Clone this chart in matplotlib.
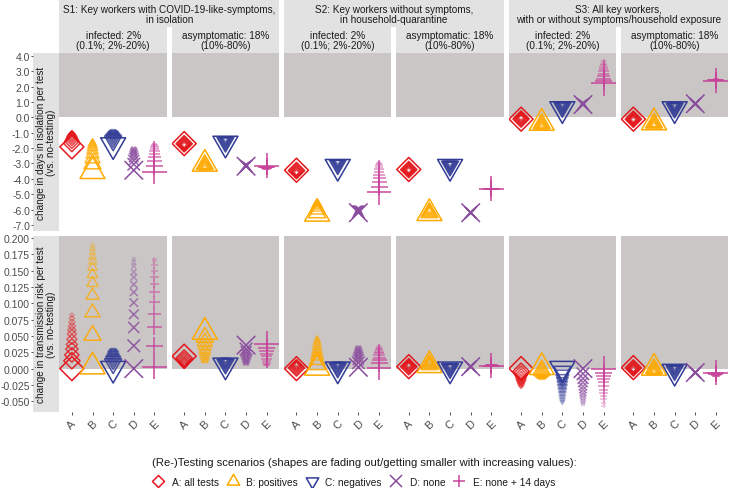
import matplotlib
matplotlib.use("Agg")
import matplotlib.pyplot as plt
import numpy as np
from matplotlib.path import Path
from matplotlib.markers import MarkerStyle
from matplotlib.lines import Line2D

plt.rcParams['font.family'] = ['Liberation Sans', 'DejaVu Sans']
plt.rcParams['axes.unicode_minus'] = False

scenarios = ['A', 'B', 'C', 'D', 'E']
legend_labels = ['A: all tests', 'B: positives', 'C: negatives', 'D: none', 'E: none + 14 days']
colors = ['#e3171c', '#ffaa00', '#323c96', '#8a4c9e', '#c8449b']

group_titles = ['S1: Key workers with COVID-19-like-symptoms,\nin isolation',
                'S2: Key workers without symptoms,\nin household-quarantine',
                'S3: All key workers,\nwith or without symptoms/household exposure']
sub_titles = ['infected: 2%\n(0.1%; 2%-20%)', 'asymptomatic: 18%\n(10%-80%)']
row_titles = ['change in days in isolation per test\n(vs. no-testing)',
              'change in transmission risk per test\n(vs. no-testing)']

# change in days in isolation; per scenario A..E, largest marker first
iso_s1_inf = [
    [-1.92, -1.70, -1.55, -1.43, -1.34, -1.27, -1.21, -1.16, -1.12, -1.08, -1.05, -1.02],
    [-3.51, -3.03, -2.68, -2.38, -2.14, -1.95, -1.83, -1.74, -1.69, -1.65, -1.63, -1.61],
    [-1.80, -1.53, -1.40, -1.30, -1.22, -1.15, -1.10, -1.05, -1.00, -0.96, -0.92, -0.88],
    [-3.44, -3.05, -2.80, -2.61, -2.46, -2.35, -2.26, -2.19, -2.13, -2.08, -2.04, -2.00],
    [-3.54, -3.18, -2.85, -2.59, -2.37, -2.18, -2.03, -1.92, -1.84, -1.78, -1.74, -1.71],
]
iso_s1_asym = [
    [-1.71, -1.72, -1.73, -1.74, -1.75, -1.76, -1.77, -1.78, -1.78, -1.79, -1.79, -1.80],
    [-3.03, -3.07, -3.10, -3.14, -3.17, -3.19, -3.21, -3.23, -3.25, -3.27, -3.29, -3.31],
    [-1.70, -1.62, -1.58, -1.55, -1.52, -1.50, -1.48, -1.46, -1.45, -1.44, -1.43, -1.42],
    [-3.18, -3.17, -3.16, -3.15, -3.14, -3.13, -3.12, -3.11, -3.10, -3.10, -3.09, -3.09],
    [-3.15, -3.20, -3.23, -3.26, -3.28, -3.30, -3.32, -3.33, -3.34, -3.35, -3.36, -3.37],
]
iso_s2_inf = [
    [-3.44, -3.46, -3.48, -3.50, -3.52, -3.54, -3.55, -3.56, -3.57, -3.58, -3.59, -3.60],
    [-6.28, -6.21, -6.00, -5.85, -5.75, -5.70, -5.66, -5.63, -5.61, -5.60, -5.59, -5.58],
    [-3.21, -3.08, -3.04, -3.00, -2.98, -2.96, -2.94, -2.93, -2.92, -2.91, -2.90, -2.89],
    [-6.20, -6.15, -6.10, -6.06, -6.03, -6.00, -5.98, -5.96, -5.95, -5.94, -5.93, -5.92],
    [-4.87, -4.52, -4.22, -3.95, -3.73, -3.53, -3.36, -3.22, -3.10, -3.01, -2.95, -2.91],
]
iso_s2_asym = [
    [-3.39, -3.40, -3.40, -3.41, -3.41, -3.42, -3.42, -3.43, -3.43, -3.44, -3.44, -3.45],
    [-6.24, -6.20, -6.17, -6.14, -6.12, -6.10, -6.08, -6.07, -6.06, -6.05, -6.04, -6.03],
    [-3.21, -3.17, -3.14, -3.11, -3.09, -3.07, -3.06, -3.05, -3.04, -3.03, -3.02, -3.01],
    [-6.20, -6.20, -6.20, -6.20, -6.20, -6.20, -6.20, -6.20, -6.20, -6.20, -6.20, -6.20],
    [-4.65, -4.65, -4.65, -4.65, -4.65, -4.65, -4.65, -4.65, -4.65, -4.65, -4.65, -4.65],
]
iso_s3_inf = [
    [-0.12, -0.11, -0.10, -0.09, -0.08, -0.07, -0.06, -0.05, -0.04, -0.03, -0.02, -0.01],
    [-0.37, -0.41, -0.45, -0.48, -0.51, -0.53, -0.55, -0.57, -0.59, -0.61, -0.62, -0.64],
    [0.54, 0.64, 0.68, 0.72, 0.75, 0.77, 0.79, 0.81, 0.83, 0.85, 0.87, 0.88],
    [0.83, 0.84, 0.85, 0.86, 0.87, 0.88, 0.89, 0.90, 0.91, 0.92, 0.92, 0.93],
    [2.20, 2.36, 2.52, 2.68, 2.84, 2.99, 3.13, 3.26, 3.38, 3.49, 3.58, 3.65],
]
iso_s3_asym = [
    [-0.12, -0.12, -0.13, -0.13, -0.13, -0.14, -0.14, -0.14, -0.15, -0.15, -0.15, -0.15],
    [-0.34, -0.37, -0.40, -0.42, -0.44, -0.46, -0.47, -0.48, -0.49, -0.50, -0.51, -0.52],
    [0.54, 0.60, 0.64, 0.67, 0.70, 0.72, 0.74, 0.75, 0.76, 0.77, 0.78, 0.79],
    [0.88, 0.88, 0.88, 0.88, 0.88, 0.88, 0.88, 0.88, 0.88, 0.88, 0.88, 0.88],
    [2.39, 2.40, 2.41, 2.42, 2.43, 2.44, 2.44, 2.45, 2.45, 2.46, 2.46, 2.46],
]

# change in transmission risk; per scenario A..E, largest marker first
risk_s1_inf = [
    [0.000, 0.012, 0.021, 0.030, 0.037, 0.045, 0.053, 0.059, 0.065, 0.071, 0.077, 0.082],
    [0.003, 0.051, 0.086, 0.112, 0.131, 0.144, 0.155, 0.164, 0.171, 0.178, 0.184, 0.189],
    [0.000, 0.0075, 0.012, 0.015, 0.018, 0.021, 0.023, 0.024, 0.026, 0.027, 0.028, 0.029],
    [0.000, 0.035, 0.063, 0.083, 0.101, 0.117, 0.129, 0.140, 0.148, 0.157, 0.163, 0.168],
    [0.0025, 0.035, 0.063, 0.084, 0.102, 0.118, 0.130, 0.141, 0.150, 0.158, 0.164, 0.168],
]
risk_s1_asym = [
    [0.019, 0.016, 0.014, 0.012, 0.010, 0.009, 0.008, 0.007, 0.006, 0.005, 0.005, 0.004],
    [0.056, 0.048, 0.041, 0.035, 0.029, 0.025, 0.021, 0.018, 0.015, 0.013, 0.012, 0.011],
    [0.005, 0.007, 0.008, 0.009, 0.010, 0.011, 0.011, 0.012, 0.012, 0.013, 0.013, 0.013],
    [0.036, 0.030, 0.026, 0.022, 0.019, 0.016, 0.014, 0.012, 0.010, 0.009, 0.008, 0.007],
    [0.038, 0.032, 0.027, 0.023, 0.019, 0.015, 0.012, 0.009, 0.007, 0.006, 0.005, 0.005],
]
risk_s2_inf = [
    [0.000, 0.001, 0.002, 0.003, 0.004, 0.004, 0.005, 0.005, 0.006, 0.006, 0.006, 0.007],
    [0.001, 0.006, 0.013, 0.019, 0.024, 0.029, 0.034, 0.038, 0.041, 0.043, 0.045, 0.047],
    [-0.001, 0.001, 0.002, 0.003, 0.004, 0.005, 0.005, 0.006, 0.006, 0.007, 0.007, 0.007],
    [0.002, 0.009, 0.014, 0.018, 0.021, 0.024, 0.026, 0.028, 0.030, 0.031, 0.032, 0.033],
    [0.0015, 0.008, 0.013, 0.017, 0.021, 0.024, 0.026, 0.028, 0.030, 0.032, 0.033, 0.034],
]
risk_s2_asym = [
    [0.003, 0.003, 0.003, 0.004, 0.004, 0.004, 0.004, 0.005, 0.005, 0.005, 0.005, 0.005],
    [0.005, 0.006, 0.007, 0.008, 0.008, 0.009, 0.009, 0.010, 0.010, 0.010, 0.011, 0.011],
    [-0.001, 0.000, 0.001, 0.001, 0.002, 0.002, 0.003, 0.003, 0.003, 0.004, 0.004, 0.004],
    [0.003, 0.003, 0.003, 0.003, 0.003, 0.003, 0.003, 0.003, 0.003, 0.003, 0.003, 0.003],
    [0.004, 0.004, 0.004, 0.005, 0.005, 0.005, 0.005, 0.005, 0.006, 0.006, 0.006, 0.006],
]
risk_s3_inf = [
    [0.000, -0.004, -0.007, -0.010, -0.013, -0.016, -0.018, -0.020, -0.022, -0.024, -0.026, -0.027],
    [0.002, -0.002, -0.004, -0.006, -0.008, -0.009, -0.010, -0.011, -0.012, -0.013, -0.014, -0.014],
    [0.000, -0.004, -0.009, -0.015, -0.019, -0.024, -0.029, -0.034, -0.039, -0.044, -0.048, -0.051],
    [0.000, -0.008, -0.015, -0.021, -0.027, -0.032, -0.037, -0.041, -0.045, -0.049, -0.052, -0.055],
    [0.000, -0.006, -0.011, -0.016, -0.021, -0.027, -0.032, -0.037, -0.042, -0.047, -0.052, -0.057],
]
risk_s3_asym = [
    [0.0015, 0.001, 0.001, 0.0005, 0.0005, 0.000, 0.000, 0.000, -0.0005, -0.0005, -0.001, -0.001],
    [0.001, 0.000, -0.001, -0.002, -0.003, -0.003, -0.004, -0.004, -0.005, -0.005, -0.005, -0.006],
    [-0.0045, -0.003, -0.002, -0.001, 0.000, 0.000, 0.001, 0.001, 0.001, 0.002, 0.002, 0.002],
    [-0.006, -0.006, -0.006, -0.006, -0.006, -0.006, -0.006, -0.006, -0.006, -0.006, -0.006, -0.006],
    [-0.006, -0.007, -0.008, -0.009, -0.009, -0.010, -0.010, -0.011, -0.011, -0.011, -0.012, -0.012],
]

iso_panels = [iso_s1_inf, iso_s1_asym, iso_s2_inf, iso_s2_asym, iso_s3_inf, iso_s3_asym]
risk_panels = [risk_s1_inf, risk_s1_asym, risk_s2_inf, risk_s2_asym, risk_s3_inf, risk_s3_asym]

iso_ticks = [4.0, 3.0, 2.0, 1.0, 0.0, -1.0, -2.0, -3.0, -4.0, -5.0, -6.0, -7.0]
risk_ticks = [0.200, 0.175, 0.150, 0.125, 0.100, 0.075, 0.050, 0.025, 0.000, -0.025, -0.050]

# ---- styling ----
W, H = 729, 489
DPI = 100
PX = 72.0 / DPI  # points per pixel

diamond = Path([(0, 1), (1, 0), (0, -1), (-1, 0), (0, 1)],
               [Path.MOVETO, Path.LINETO, Path.LINETO, Path.LINETO, Path.CLOSEPOLY])
tri_up = Path([(0, 1), (0.866, -0.5), (-0.866, -0.5), (0, 1)],
              [Path.MOVETO, Path.LINETO, Path.LINETO, Path.CLOSEPOLY])
tri_down = Path([(0, -1), (0.866, 0.5), (-0.866, 0.5), (0, -1)],
                [Path.MOVETO, Path.LINETO, Path.LINETO, Path.CLOSEPOLY])
markers = [diamond, tri_up, tri_down, 'x', '+']
# largest marker size in pt (scatter marker size)
max_ms = [24 * PX, 25 / 0.866 * PX, 25 / 0.866 * PX, 18.5 * PX, 25 * PX]
legend_ms = [12 * PX, 12.5 / 0.866 * PX, 12.5 / 0.866 * PX, 11.5 * PX, 12.5 * PX]

rel_size = np.array([1.0, 0.68, 0.60, 0.52, 0.46, 0.42, 0.38, 0.34, 0.30, 0.26, 0.22, 0.18])
alphas = np.array([1.0, 0.9, 0.82, 0.75, 0.68, 0.62, 0.56, 0.50, 0.45, 0.40, 0.35, 0.30])

shade = '#c9c6c5'
strip_col = '#e2e2e2'
text_col = '#1a1a1a'
tick_col = '#4d4d4d'
FS = 7.2
TICK_FS = 7.5


def rect(x0, y0, x1, y1):
    return [x0 / W, 1 - y1 / H, (x1 - x0) / W, (y1 - y0) / H]


fig = plt.figure(figsize=(W / DPI, H / DPI), dpi=DPI)

lefts = [59.5, 171.8, 284.1, 396.4, 508.7, 621.0]
pw = 107.3
rows = [(54.3, 231.7), (236.7, 413.3)]
ylims = [(-7.37, 4.16), (-0.0669, 0.2035)]
row_data = [iso_panels, risk_panels]
row_ticks = [iso_ticks, risk_ticks]
row_fmt = ['{:.1f}', '{:.3f}']

for r, (y0, y1) in enumerate(rows):
    # row label strip with y tick labels
    sax = fig.add_axes(rect(33.3, y0, 59.3, y1))
    sax.set_facecolor(strip_col)
    sax.set_ylim(*ylims[r])
    sax.set_xlim(0, 1)
    sax.set_xticks([])
    sax.set_yticks(row_ticks[r])
    sax.set_yticklabels([row_fmt[r].format(t) for t in row_ticks[r]])
    sax.tick_params(axis='y', length=1.6, width=0.6, color='#333333',
                    labelsize=TICK_FS, labelcolor=tick_col, pad=0.8)
    for sp in sax.spines.values():
        sp.set_visible(False)
    sax.text(0.5, 0.5, row_titles[r], rotation=90, ha='center', va='center',
             fontsize=FS, color=text_col, linespacing=1.05, transform=sax.transAxes)

    for p in range(6):
        ax = fig.add_axes(rect(lefts[p], y0, lefts[p] + pw, y1))
        ax.set_xlim(-0.6, 4.6)
        ax.set_ylim(*ylims[r])
        ax.axhspan(0, ylims[r][1], color=shade, lw=0, zorder=0)
        for sp in ax.spines.values():
            sp.set_visible(False)
        ax.set_yticks([])
        if r == 1:
            ax.set_xticks(range(5))
            ax.set_xticklabels(scenarios, rotation=45, ha='center', va='top')
            ax.tick_params(axis='x', length=2.0, width=0.6, color='#333333',
                           labelsize=8, labelcolor=tick_col, pad=2)
        else:
            ax.set_xticks([])
        for k in range(5):
            vals = row_data[r][p][k]
            n = len(vals)
            rgba = np.zeros((n, 4))
            rgba[:, :3] = matplotlib.colors.to_rgb(colors[k])
            rgba[:, 3] = alphas[:n]
            sizes = (max_ms[k] * rel_size[:n]) ** 2
            ax.scatter(np.full(n, k), vals, s=sizes, c=rgba,
                       marker=MarkerStyle(markers[k], fillstyle='none'),
                       linewidths=1.1, zorder=3, clip_on=True)

# top strips
for g in range(3):
    x0 = lefts[2 * g]
    x1 = lefts[2 * g + 1] + pw
    tax = fig.add_axes(rect(x0, 0, x1, 27.7))
    tax.set_facecolor(strip_col)
    tax.set_xticks([]); tax.set_yticks([])
    for sp in tax.spines.values():
        sp.set_visible(False)
    tax.text(0.5, 0.45, group_titles[g], ha='center', va='center', fontsize=FS,
             color=text_col, linespacing=1.05, transform=tax.transAxes)
    for s in range(2):
        xs = lefts[2 * g + s]
        uax = fig.add_axes(rect(xs, 27.7, xs + pw, 54.3))
        uax.set_facecolor(strip_col)
        uax.set_xticks([]); uax.set_yticks([])
        for sp in uax.spines.values():
            sp.set_visible(False)
        uax.text(0.5, 0.5, sub_titles[s], ha='center', va='center', fontsize=FS,
                 color=text_col, linespacing=1.1, transform=uax.transAxes)

handles = [Line2D([], [], linestyle='none', marker=MarkerStyle(markers[k], fillstyle='none'),
                  markersize=legend_ms[k], markeredgewidth=1.1, color=colors[k])
           for k in range(5)]
leg = fig.legend(handles, legend_labels, loc='upper center', bbox_to_anchor=(0.5, 1 - 458.5 / H),
                 ncol=5, frameon=False, fontsize=7.3, title_fontsize=8.1,
                 title='(Re-)Testing scenarios (shapes are fading out/getting smaller with increasing values):',
                 alignment='left', handlelength=1.2, handletextpad=0.72, columnspacing=0.8,
                 labelspacing=0.9, borderpad=0, borderaxespad=0)
for t in leg.get_texts():
    t.set_color(text_col)
leg.get_title().set_color(text_col)

fig.savefig('out.png', dpi=DPI, facecolor='white')
